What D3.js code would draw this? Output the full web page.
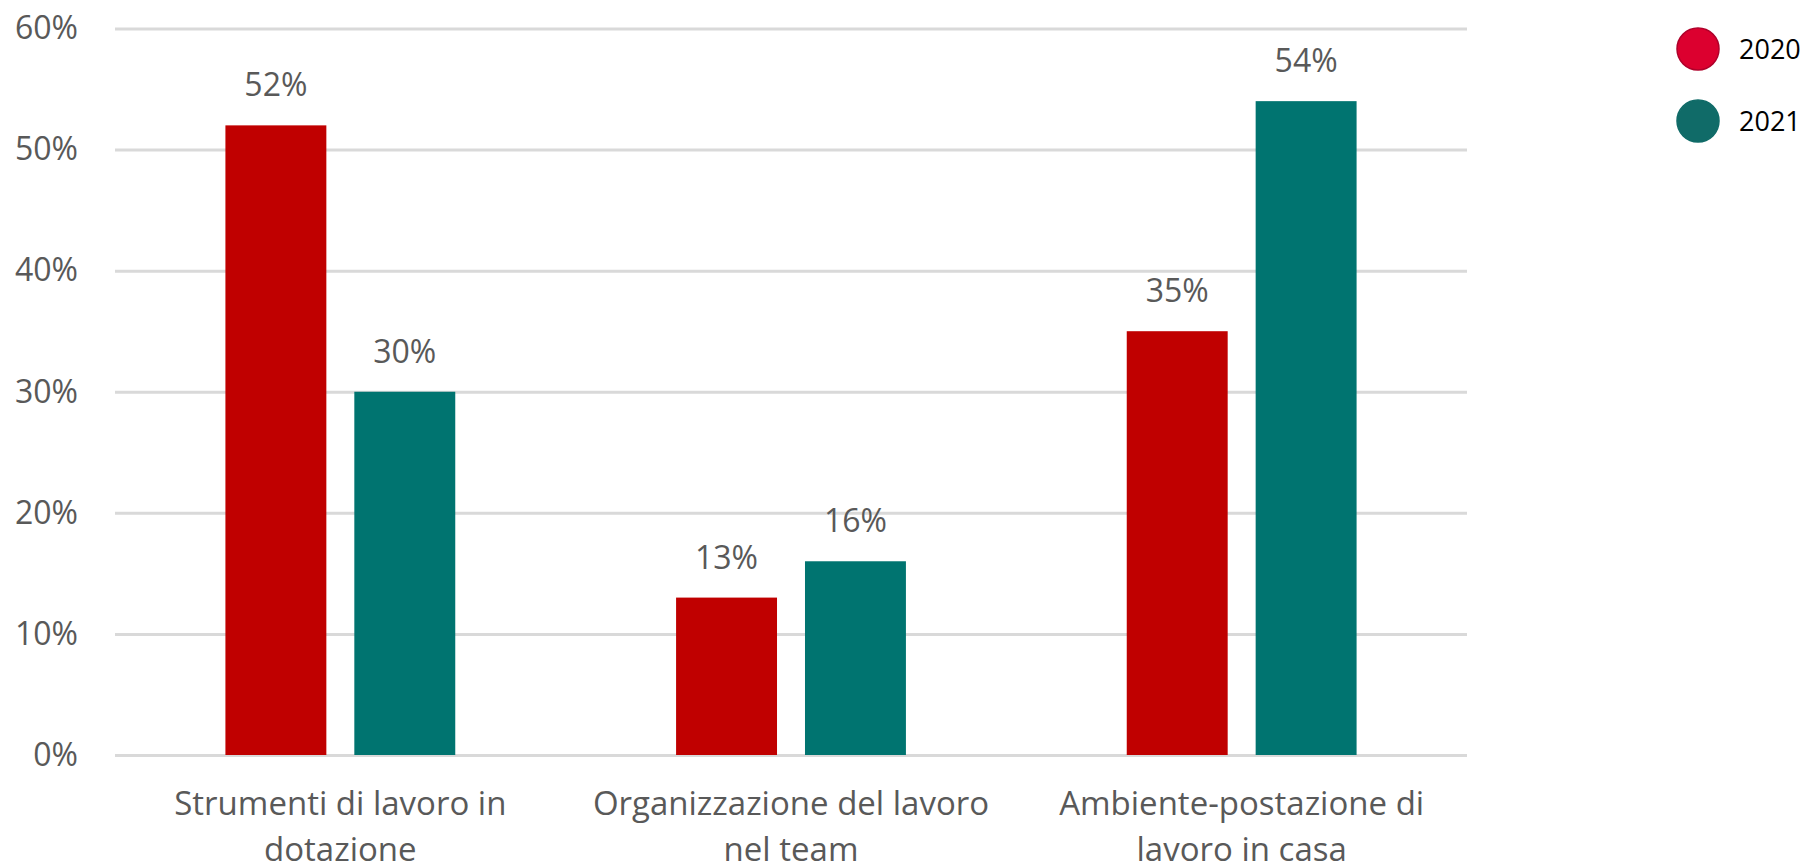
<!DOCTYPE html>
<html>
<head>
<meta charset="utf-8">
<script src="https://cdn.jsdelivr.net/npm/d3@7"></script>
<style>
  html, body { margin: 0; padding: 0; background: #fff; }
  svg { display: block; font-family: "Open Sans", sans-serif; }
</style>
</head>
<body>
<div id="chart"></div>
<script>
var categories = [
  ["Strumenti di lavoro in", "dotazione"],
  ["Organizzazione del lavoro", "nel team"],
  ["Ambiente-postazione di", "lavoro in casa"]
];
var years = ["2020", "2021"];
var values2020 = [0.52, 0.13, 0.35];
var values2021 = [0.30, 0.16, 0.54];
var yTicks = [0, 0.1, 0.2, 0.3, 0.4, 0.5, 0.6];

var W = 1808, H = 866;
var plot = { left: 115, right: 1467, top: 28.5, bottom: 755 };
var barColors = { "2020": "#C00000", "2021": "#007470" };
var legendFill = { "2020": "#DC002F", "2021": "#106B68" };
var legendStroke = { "2020": "#B0002A", "2021": "#106B68" };

var svg = d3.select('#chart')
  .append('svg')
	.attr('width', W)
	.attr('height', H);

var x0 = d3.scaleBand()
	.domain(d3.range(categories.length))
	.range([plot.left, plot.right])
	.paddingInner(0.49)
	.paddingOuter(0.245);

var x1 = d3.scaleBand()
	.domain(years)
	.range([0, x0.bandwidth()])
	.paddingInner(0.217);

var y = d3.scaleLinear()
	.domain([0, 0.6])
	.range([plot.bottom, plot.top]);

// gridlines + y labels
var yAxis = d3.axisLeft(y)
	.tickValues(yTicks)
	.tickSize(-(plot.right - plot.left))
	.tickPadding(37)
	.tickFormat(d3.format('.0%'));

var gy = svg.append('g')
	.attr('transform', 'translate(' + plot.left + ',0)')
	.call(yAxis);

gy.select('.domain').remove();
gy.selectAll('.tick line')
	.attr('stroke', '#D9D9D9')
	.attr('stroke-width', 3);
gy.selectAll('.tick text')
	.attr('fill', '#595959')
	.attr('font-size', 32)
	.attr('font-family', 'Open Sans');

// bars
var rows = categories.map(function(c, i){
	return { i: i, values: [ { year: "2020", v: values2020[i] }, { year: "2021", v: values2021[i] } ] };
});

var groups = svg.selectAll('g.cat')
	.data(rows)
	.enter().append('g')
	.attr('class', 'cat')
	.attr('transform', function(d){ return 'translate(' + x0(d.i) + ',0)'; });

groups.selectAll('rect')
	.data(function(d){ return d.values; })
	.enter().append('rect')
	.attr('x', function(d){ return x1(d.year); })
	.attr('y', function(d){ return y(d.v); })
	.attr('width', x1.bandwidth())
	.attr('height', function(d){ return y(0) - y(d.v); })
	.attr('fill', function(d){ return barColors[d.year]; });

groups.selectAll('text.val')
	.data(function(d){ return d.values; })
	.enter().append('text')
	.attr('class', 'val')
	.attr('x', function(d){ return x1(d.year) + x1.bandwidth() / 2; })
	.attr('y', function(d){ return y(d.v) - 29; })
	.attr('text-anchor', 'middle')
	.attr('font-size', 32)
	.attr('fill', '#595959')
	.text(function(d){ return d3.format('.0%')(d.v); });

// category labels
var cat = svg.selectAll('text.cat')
	.data(categories)
	.enter().append('text')
	.attr('class', 'cat')
	.attr('text-anchor', 'middle')
	.attr('font-size', 33)
	.attr('fill', '#595959')
	.attr('transform', function(d, i){ return 'translate(' + (x0(i) + x0.bandwidth() / 2) + ',815)'; });

cat.selectAll('tspan')
	.data(function(d){ return d; })
	.enter().append('tspan')
	.attr('x', 0)
	.attr('y', function(d, i){ return i * 46; })
	.text(function(d){ return d; });

// legend
var legend = svg.selectAll('g.legend')
	.data(years)
	.enter().append('g')
	.attr('class', 'legend')
	.attr('transform', function(d, i){ return 'translate(1698,' + (49 + i * 72) + ')'; });

legend.append('circle')
	.attr('r', 21)
	.attr('fill', function(d){ return legendFill[d]; })
	.attr('stroke', function(d){ return legendStroke[d]; })
	.attr('stroke-width', 1.5);

legend.append('text')
	.attr('x', 41)
	.attr('y', 10)
	.attr('font-size', 27)
	.attr('fill', '#000')
	.text(function(d){ return d; });
</script>
</body>
</html>
